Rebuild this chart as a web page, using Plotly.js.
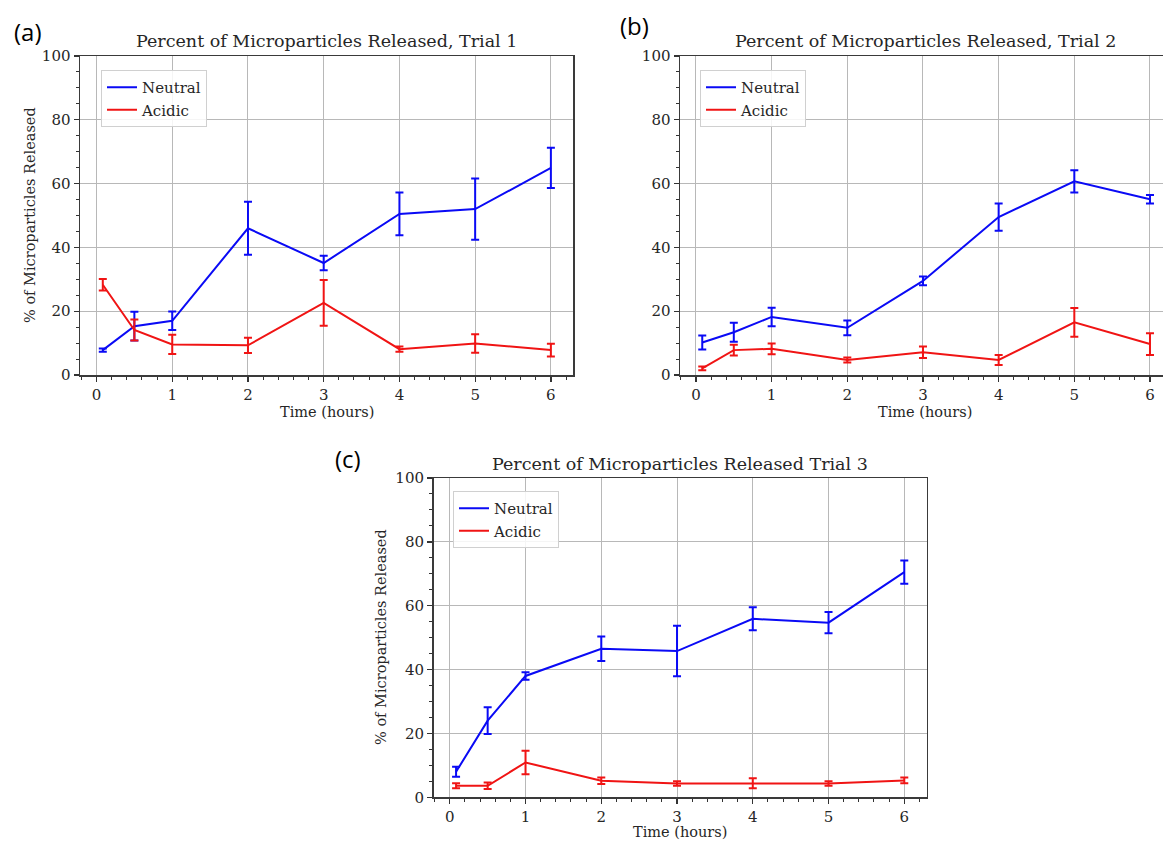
<!DOCTYPE html>
<html>
<head>
<meta charset="utf-8">
<script src="https://cdn.plot.ly/plotly-3.0.1.min.js"></script>
<style>html,body{margin:0;padding:0;background:#fff;}#chart{width:1163px;height:842px;}</style>
</head>
<body>
<div id="chart"></div>
<script>
// Time points (hours)
const time = [0.083, 0.5, 1, 2, 3, 4, 5, 6];

// Trial 1
const trial1Neutral    = [7.8, 15.3, 17.0, 46.0, 35.1, 50.5, 52.0, 64.9];
const trial1NeutralErr = [0.5, 4.5, 2.9, 8.3, 2.3, 6.7, 9.6, 6.3];
const trial1Acidic     = [28.3, 14.1, 9.6, 9.3, 22.6, 8.1, 9.9, 7.8];
const trial1AcidicErr  = [1.8, 3.3, 3.0, 2.4, 7.2, 0.8, 2.9, 2.0];

// Trial 2
const trial2Neutral    = [10.2, 13.4, 18.2, 14.8, 29.5, 49.5, 60.7, 55.1];
const trial2NeutralErr = [2.2, 3.0, 2.9, 2.3, 1.4, 4.3, 3.5, 1.3];
const trial2Acidic     = [2.1, 7.8, 8.2, 4.7, 7.1, 4.7, 16.5, 9.7];
const trial2AcidicErr  = [0.6, 1.7, 1.7, 0.8, 1.8, 1.6, 4.5, 3.4];

// Trial 3
const trial3Neutral    = [8.0, 24.0, 38.0, 46.5, 45.8, 55.9, 54.7, 70.5];
const trial3NeutralErr = [1.6, 4.2, 1.2, 3.85, 7.9, 3.6, 3.3, 3.65];
const trial3Acidic     = [3.6, 3.6, 10.9, 5.2, 4.3, 4.4, 4.3, 5.3];
const trial3AcidicErr  = [0.8, 1.0, 3.65, 1.0, 0.7, 1.6, 0.7, 0.9];

const seriesNames = ['Neutral', 'Acidic'];
const titles = ['Percent of Microparticles Released, Trial 1',
                'Percent of Microparticles Released, Trial 2',
                'Percent of Microparticles Released Trial 3'];
const panelLabels = ['(a)', '(b)', '(c)'];
const xTitle = 'Time (hours)';
const yTitle = '% of Microparticles Released';

const W = 1163, H = 842;
const BLUE = '#0a0af5', RED = '#f01414';
const SERIF = 'DejaVu Serif, serif';
const TXT = '#262626';

function px(x){ return x / W; }
function py(y){ return 1 - y / H; }

function mk(x, y, err, name, color, xa, ya, legend){
  return {
    type: 'scatter', mode: 'lines', x: x, y: y, name: name,
    xaxis: xa, yaxis: ya, legend: legend,
    line: {color: color, width: 2},
    error_y: {type: 'data', array: err, visible: true, color: color, thickness: 2, width: 4},
    hoverinfo: 'x+y'
  };
}

const data = [
  mk(time, trial1Neutral, trial1NeutralErr, seriesNames[0], BLUE, 'x', 'y', 'legend'),
  mk(time, trial1Acidic,  trial1AcidicErr,  seriesNames[1], RED,  'x', 'y', 'legend'),
  mk(time, trial2Neutral, trial2NeutralErr, seriesNames[0], BLUE, 'x2', 'y2', 'legend2'),
  mk(time, trial2Acidic,  trial2AcidicErr,  seriesNames[1], RED,  'x2', 'y2', 'legend2'),
  mk(time, trial3Neutral, trial3NeutralErr, seriesNames[0], BLUE, 'x3', 'y3', 'legend3'),
  mk(time, trial3Acidic,  trial3AcidicErr,  seriesNames[1], RED,  'x3', 'y3', 'legend3')
];

function xaxis(domain, range, anchor){
  return {
    domain: domain, range: range, anchor: anchor,
    tickmode: 'linear', tick0: 0, dtick: 1,
    ticks: 'outside', ticklen: 5, tickwidth: 1.3, tickcolor: '#333',
    minor: {dtick: 0.2, tick0: 0, ticks: 'outside', ticklen: 3, tickwidth: 1, tickcolor: '#333', showgrid: false},
    showgrid: true, gridcolor: '#b8b8b8', gridwidth: 1,
    showline: true, linecolor: '#3a3a3a', linewidth: 1.5, mirror: true,
    zeroline: false,
    tickfont: {family: SERIF, size: 15, color: TXT}
  };
}
function yaxis(domain, anchor){
  return {
    domain: domain, range: [0, 100], anchor: anchor,
    tickmode: 'linear', tick0: 0, dtick: 20,
    ticks: 'outside', ticklen: 5, tickwidth: 1.3, tickcolor: '#333',
    minor: {dtick: 5, tick0: 0, ticks: 'outside', ticklen: 3, tickwidth: 1, tickcolor: '#333', showgrid: false},
    showgrid: true, gridcolor: '#b8b8b8', gridwidth: 1,
    showline: true, linecolor: '#3a3a3a', linewidth: 1.5, mirror: true,
    zeroline: false,
    tickfont: {family: SERIF, size: 15, color: TXT}
  };
}
function legend(x, y){
  return {
    x: px(x), y: py(y), xref: 'paper', yref: 'paper', xanchor: 'left', yanchor: 'top',
    bgcolor: 'rgba(255,255,255,0.85)', bordercolor: '#d0d0d0', borderwidth: 1,
    font: {family: SERIF, size: 15, color: TXT},
    itemwidth: 30, tracegroupgap: 0
  };
}
function ann(text, x, y, size, family, extra){
  return Object.assign({
    text: text, x: px(x), y: py(y), xref: 'paper', yref: 'paper',
    xanchor: 'center', yanchor: 'middle', showarrow: false,
    font: {family: family, size: size, color: TXT}
  }, extra || {});
}
const LBLFONT = {family: 'Open Sans, sans-serif', size: 24, color: '#000'};

const layout = {
  width: W, height: H,
  margin: {l: 0, r: 0, t: 0, b: 0},
  paper_bgcolor: '#ffffff', plot_bgcolor: '#ffffff',
  showlegend: true,
  xaxis:  xaxis([px(80), px(573.3)], [-0.218, 6.296], 'y'),
  yaxis:  yaxis([py(375), py(56)], 'x'),
  xaxis2: xaxis([px(680), 1], [-0.211, 6.172], 'y2'),
  yaxis2: yaxis([py(375), py(56)], 'x2'),
  xaxis3: xaxis([px(433.5), px(926.7)], [-0.215, 6.296], 'y3'),
  yaxis3: yaxis([py(797.3), py(478)], 'x3'),
  legend:  legend(101, 70),
  legend2: legend(700, 70),
  legend3: legend(453, 491),
  annotations: [
    ann(titles[0], 326.5, 41, 17.5, SERIF),
    ann(titles[1], 925, 41, 17.5, SERIF),
    ann(titles[2], 680, 464, 17.5, SERIF),
    ann(xTitle, 326.5, 412, 14.5, SERIF),
    ann(xTitle, 925, 412, 14.5, SERIF),
    ann(xTitle, 680, 832, 14.5, SERIF),
    ann(yTitle, 30, 215, 14.5, SERIF, {textangle: -90}),
    ann(yTitle, 381, 637, 14.5, SERIF, {textangle: -90}),
    ann(panelLabels[0], 27.5, 31, 24, 'Open Sans', {font: LBLFONT}),
    ann(panelLabels[1], 634, 26, 24, 'Open Sans', {font: LBLFONT}),
    ann(panelLabels[2], 348, 458, 24, 'Open Sans', {font: LBLFONT})
  ]
};

Plotly.newPlot('chart', data, layout, {staticPlot: true, displayModeBar: false});
</script>
</body>
</html>
